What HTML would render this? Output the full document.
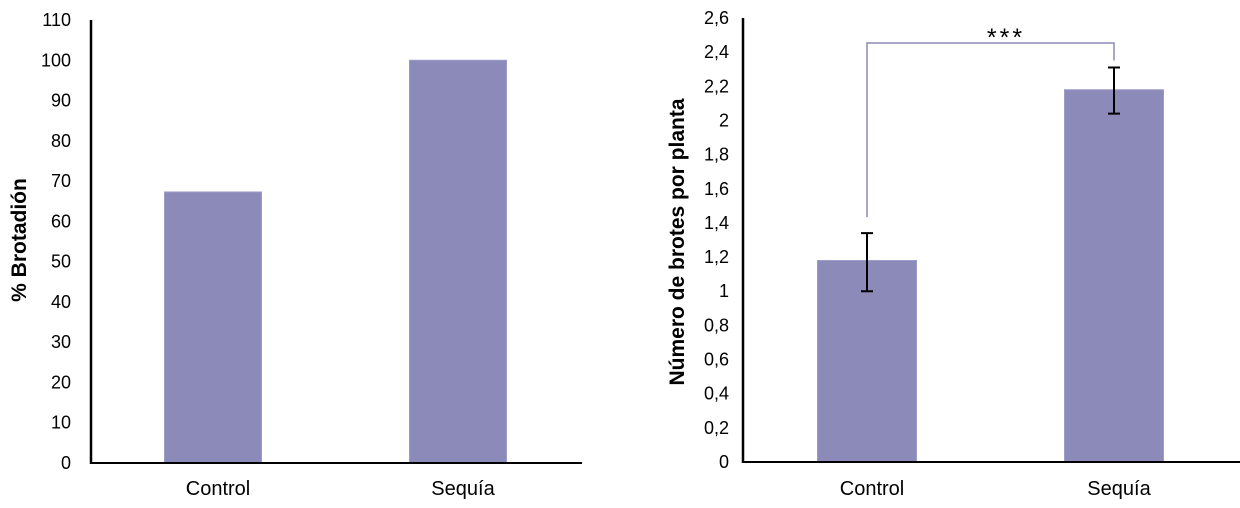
<!DOCTYPE html>
<html><head><meta charset="utf-8"><style>
body{margin:0;background:#fff;}
svg text{font-family:"Liberation Sans",Arial,sans-serif;fill:#000;}
</style></head><body>
<svg id="c" width="1240" height="503" xmlns="http://www.w3.org/2000/svg"></svg>
<script>
const categories=["Control","Sequía"];
const leftValues=[67.3,100];
const leftTicks=[0,10,20,30,40,50,60,70,80,90,100,110];
const rightValues=[1.18,2.18];
const rightErrLow=[1.0,2.04];
const rightErrHigh=[1.34,2.31];
const rightTicks=["0","0,2","0,4","0,6","0,8","1","1,2","1,4","1,6","1,8","2","2,2","2,4","2,6"];
const sig="***";
const svg=document.getElementById('c');
const NS="http://www.w3.org/2000/svg";
function mk(t,a,txt){const e=document.createElementNS(NS,t);for(const k in a)e.setAttribute(k,a[k]);if(txt!==undefined)e.textContent=txt;svg.appendChild(e);return e;}
const col="#8b8ab8";
// left chart
const L={x0:91,x1:582,y0:463,y1:20,max:110,centers:[213,458],bw:97};
function ly(v){return L.y0-(v/L.max)*(L.y0-L.y1);}
leftTicks.forEach(t=>{const e=mk('text',{x:71,y:ly(t)+6,'text-anchor':'end','font-size':18},String(t));
});
leftValues.forEach((v,i)=>{const e=mk('rect',{x:L.centers[i]-L.bw/2,y:ly(v),width:L.bw,height:L.y0-ly(v),fill:col,stroke:'#9d9cc8','stroke-width':1});

const t=mk('text',{x:L.centers[i]+5,y:495,'text-anchor':'middle','font-size':20},categories[i]);
});
let a=mk('line',{x1:L.x0,y1:L.y1,x2:L.x0,y2:L.y0+1,stroke:'#000','stroke-width':2.5});

a=mk('line',{x1:L.x0,y1:L.y0,x2:L.x1,y2:L.y0,stroke:'#000','stroke-width':2});

a=mk('text',{x:0,y:0,transform:'translate(26,240) rotate(-90)','text-anchor':'middle','font-size':21,'font-weight':'bold'},'% Brotadión');

// right chart
const R={x0:743,x1:1240,y0:462,y1:18,max:2.6,centers:[867,1114],bw:99};
function ry(v){return R.y0-(v/R.max)*(R.y0-R.y1);}
rightTicks.forEach((t,i)=>{const e=mk('text',{x:729,y:ry(i*0.2)+6,'text-anchor':'end','font-size':18},t);
});
rightValues.forEach((v,i)=>{const e=mk('rect',{x:R.centers[i]-R.bw/2,y:ry(v),width:R.bw,height:R.y0-ry(v),fill:col,stroke:'#9d9cc8','stroke-width':1});

const t=mk('text',{x:R.centers[i]+5,y:495,'text-anchor':'middle','font-size':20},categories[i]);

const c=R.centers[i],hi=ry(rightErrHigh[i]),lo=ry(rightErrLow[i]);
const g=mk('path',{d:`M${c} ${hi}V${lo}M${c-6} ${hi}H${c+6}M${c-6} ${lo}H${c+6}`,stroke:'#000','stroke-width':2,fill:'none'});
});
a=mk('path',{d:`M${R.centers[0]} ${ry(rightErrHigh[0])-16}V43H${R.centers[1]}V${ry(rightErrHigh[1])-7}`,stroke:'#8b8ab8','stroke-width':1.5,fill:'none'});

a=mk('text',{x:1006,y:46,'text-anchor':'middle','font-size':25,'letter-spacing':3},sig);

a=mk('line',{x1:R.x0,y1:R.y1,x2:R.x0,y2:R.y0+1,stroke:'#000','stroke-width':2.5});

a=mk('line',{x1:R.x0,y1:R.y0,x2:R.x1,y2:R.y0,stroke:'#000','stroke-width':2});

a=mk('text',{x:0,y:0,transform:'translate(684,242) rotate(-90)','text-anchor':'middle','font-size':21,'font-weight':'bold'},'Número de brotes por planta');

</script>
</body></html>
